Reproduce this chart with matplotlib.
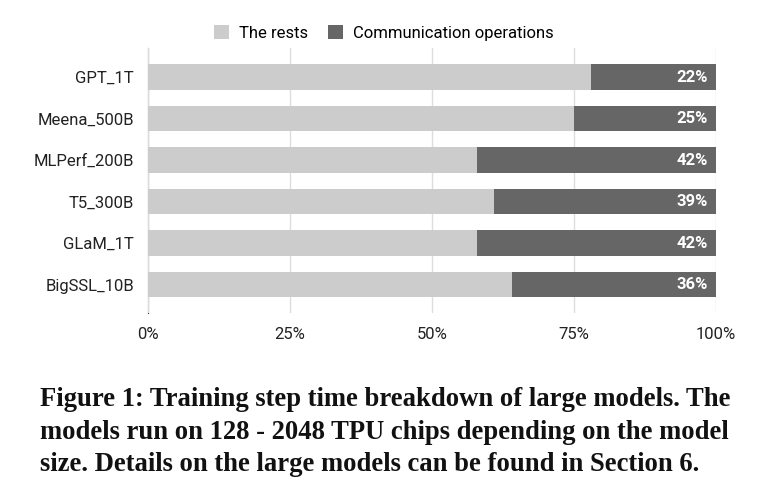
import matplotlib.pyplot as plt

# Données (part en %)
modeles = ['GPT_1T', 'Meena_500B', 'MLPerf_200B', 'T5_300B', 'GLaM_1T', 'BigSSL_10B']
comm = [22, 25, 42, 39, 42, 36]
reste = [100 - c for c in comm]
ticks_x = [0, 25, 50, 75, 100]
labels_x = ['0%', '25%', '50%', '75%', '100%']

plt.rcParams['font.family'] = ['Roboto', 'DejaVu Sans']

fig = plt.figure(figsize=(7.6, 4.95), dpi=100)
ax = fig.add_axes([0.1947, 0.368, 0.7474, 0.535])

pos = list(range(len(modeles)))
ax.barh(pos, reste, height=0.62, color='#cccccc', label='The rests', zorder=2)
ax.barh(pos, comm, left=reste, height=0.62, color='#666666',
        label='Communication operations', zorder=2)

for p, c in zip(pos, comm):
    ax.text(98.6, p, f'{c}%', color='white', ha='right', va='center',
            fontsize=12, fontweight='bold', zorder=3)

ax.set_ylim(5.68, -0.7)
ax.set_xlim(0, 100)
ax.set_yticks(pos)
ax.set_yticklabels(modeles, fontsize=12, color='#222222')
ax.set_xticks(ticks_x)
ax.set_xticklabels(labels_x, fontsize=12, color='#222222')
ax.tick_params(length=0, pad=10)
ax.grid(axis='x', color='#dddddd', linewidth=1, zorder=0)
for s in ['top', 'right', 'bottom']:
    ax.spines[s].set_visible(False)
ax.spines['left'].set_color('#333333')
ax.spines['left'].set_zorder(1)

fig.legend(loc='upper center', bbox_to_anchor=(0.505, 0.98), ncol=2, frameon=False,
           fontsize=12, handlelength=0.9, handleheight=0.9, columnspacing=1.2,
           handletextpad=0.6)

legende = ('Figure 1: Training step time breakdown of large models. The\n'
           'models run on 128 - 2048 TPU chips depending on the model\n'
           'size. Details on the large models can be found in Section 6.')
fig.text(0.052, 0.218, legende, family=['Liberation Serif', 'DejaVu Serif'],
         fontweight='bold', fontsize=19.2, va='top', ha='left', linespacing=1.4,
         color='#111111')

fig.savefig('out.png', dpi=100)
